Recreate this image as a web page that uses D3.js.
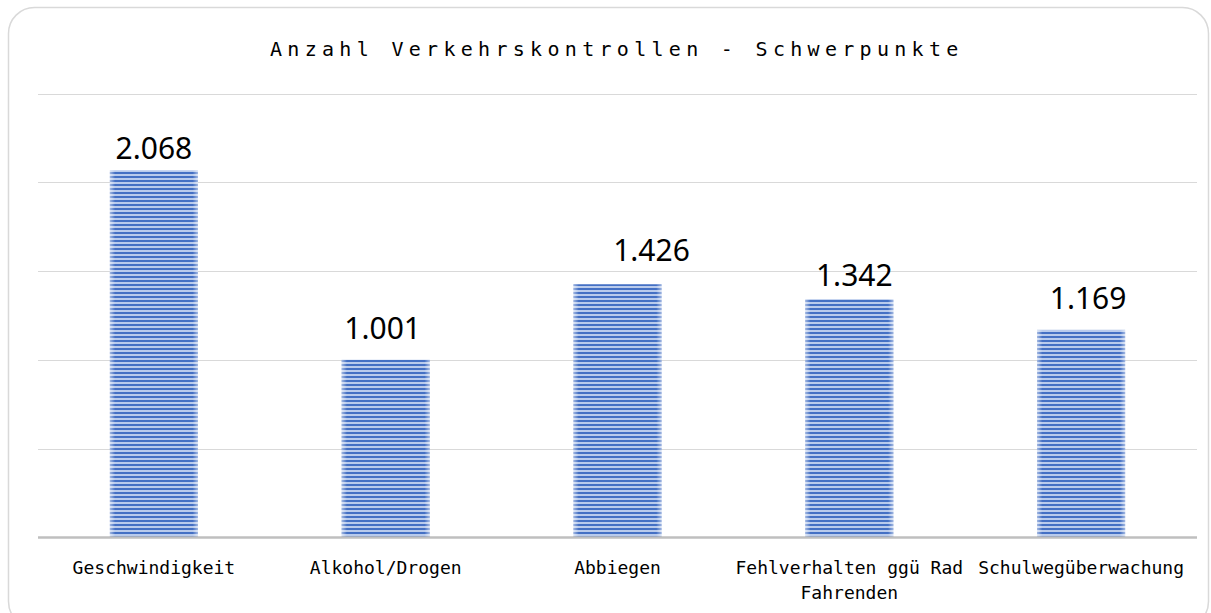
<!DOCTYPE html>
<html>
<head>
<meta charset="utf-8">
<script src="https://cdn.jsdelivr.net/npm/d3@7"></script>
<style>
  html, body { margin: 0; padding: 0; background: #ffffff; }
  svg { display: block; }
</style>
</head>
<body>
<div id="chart"></div>
<script>
// Data
const title = "Anzahl Verkehrskontrollen - Schwerpunkte";
const categories = ["Geschwindigkeit", "Alkohol/Drogen", "Abbiegen", "Fehlverhalten ggü Rad Fahrenden", "Schulwegüberwachung"];
const values = [2068, 1001, 1426, 1342, 1169];
const gridTicks = [0, 500, 1000, 1500, 2000, 2500];

// Label placement tweaks (pixels) for the value labels
const labelDx = [0, -3, 34, 5, 7];
const labelDy = [-11, -21, -23, -13, -21];

const W = 1211, H = 613;
const plot = { left: 38, right: 1197, top: 93.5, bottom: 537.5 };

const svg = d3.select("#chart").append("svg")
  .attr("width", W).attr("height", H);

const defs = svg.append("defs");

// Horizontal stripe fill for the bars
const pat = defs.append("pattern")
  .attr("id", "stripes")
  .attr("patternUnits", "userSpaceOnUse")
  .attr("width", 8).attr("height", 4);
pat.append("rect").attr("width", 8).attr("height", 4).attr("fill", "#b9cbec");
pat.append("rect").attr("width", 8).attr("height", 2).attr("fill", "#4470c4");

// Soft light fade on the left and right edges of each bar
const edge = defs.append("linearGradient")
  .attr("id", "edgeFade").attr("x1", "0").attr("x2", "1").attr("y1", "0").attr("y2", "0");
[[0, 0.5], [0.06, 0], [0.94, 0], [1, 0.5]].forEach(([o, a]) => {
  edge.append("stop").attr("offset", o).attr("stop-color", "#ffffff").attr("stop-opacity", a);
});

svg.append("rect").attr("width", W).attr("height", H).attr("fill", "#ffffff");

// Chart frame
svg.append("rect")
  .attr("x", 8.5).attr("y", 7.5)
  .attr("width", 1200).attr("height", 620)
  .attr("rx", 26).attr("ry", 26)
  .attr("fill", "none")
  .attr("stroke", "#d9d9d9")
  .attr("stroke-width", 1.5);

const x = d3.scaleBand()
  .domain(categories)
  .range([plot.left, plot.right])
  .paddingInner(0.62)
  .paddingOuter(0.31);

const y = d3.scaleLinear()
  .domain([0, 2500])
  .range([plot.bottom, plot.top]);

// Gridlines
svg.append("g")
  .selectAll("line")
  .data(gridTicks.filter(d => d > 0))
  .join("line")
  .attr("x1", plot.left).attr("x2", plot.right)
  .attr("y1", d => Math.round(y(d)) + 0.5)
  .attr("y2", d => Math.round(y(d)) + 0.5)
  .attr("stroke", "#d9d9d9")
  .attr("stroke-width", 1.2);

// Bars
const bars = svg.append("g");
bars.selectAll("rect.bar")
  .data(values)
  .join("rect")
  .attr("class", "bar")
  .attr("x", (d, i) => x(categories[i]))
  .attr("y", d => y(d))
  .attr("width", x.bandwidth())
  .attr("height", d => y(0) - y(d))
  .attr("fill", "url(#stripes)");
bars.selectAll("rect.fade")
  .data(values)
  .join("rect")
  .attr("class", "fade")
  .attr("x", (d, i) => x(categories[i]))
  .attr("y", d => y(d))
  .attr("width", x.bandwidth())
  .attr("height", d => y(0) - y(d))
  .attr("fill", "url(#edgeFade)");

// Category axis baseline
svg.append("line")
  .attr("x1", plot.left).attr("x2", plot.right)
  .attr("y1", plot.bottom).attr("y2", plot.bottom)
  .attr("stroke", "#bfbfbf")
  .attr("stroke-width", 2.5);

// Category labels via a bottom axis, wrapped to the band step
const xAxis = d3.axisBottom(x).tickSize(0).tickPadding(0);
const axisG = svg.append("g")
  .attr("transform", `translate(0,${plot.bottom})`)
  .call(xAxis);
axisG.select(".domain").remove();
axisG.selectAll("text")
  .attr("font-family", "'DejaVu Sans Mono', monospace")
  .attr("font-size", 18)
  .attr("fill", "#000000")
  .attr("dy", null)
  .attr("y", 0)
  .each(function(d) {
    const t = d3.select(this);
    const words = d.split(" ");
    const maxW = x.step();
    t.text(null);
    let line = [];
    let lineNo = 0;
    let tspan = t.append("tspan").attr("x", 0).attr("y", 36);
    words.forEach(w => {
      line.push(w);
      tspan.text(line.join(" "));
      if (tspan.node().getComputedTextLength() > maxW && line.length > 1) {
        line.pop();
        tspan.text(line.join(" "));
        line = [w];
        lineNo++;
        tspan = t.append("tspan").attr("x", 0).attr("y", 36 + lineNo * 25).text(w);
      }
    });
  });

// Value labels
const fmt = d3.formatLocale({ decimal: ",", thousands: ".", grouping: [3], currency: ["", " €"] }).format(",d");
svg.append("g")
  .selectAll("text")
  .data(values)
  .join("text")
  .attr("x", (d, i) => x(categories[i]) + x.bandwidth() / 2 + labelDx[i])
  .attr("y", (d, i) => y(d) + labelDy[i])
  .attr("text-anchor", "middle")
  .attr("font-family", "'Noto Sans', 'Open Sans', sans-serif")
  .attr("font-size", 30)
  .attr("fill", "#000000")
  .text(d => fmt(d));

// Title
svg.append("text")
  .attr("x", 270)
  .attr("y", 56)
  .attr("font-family", "'DejaVu Sans Mono', monospace")
  .attr("font-size", 20)
  .attr("letter-spacing", 5.3)
  .attr("fill", "#000000")
  .text(title);
</script>
</body>
</html>
